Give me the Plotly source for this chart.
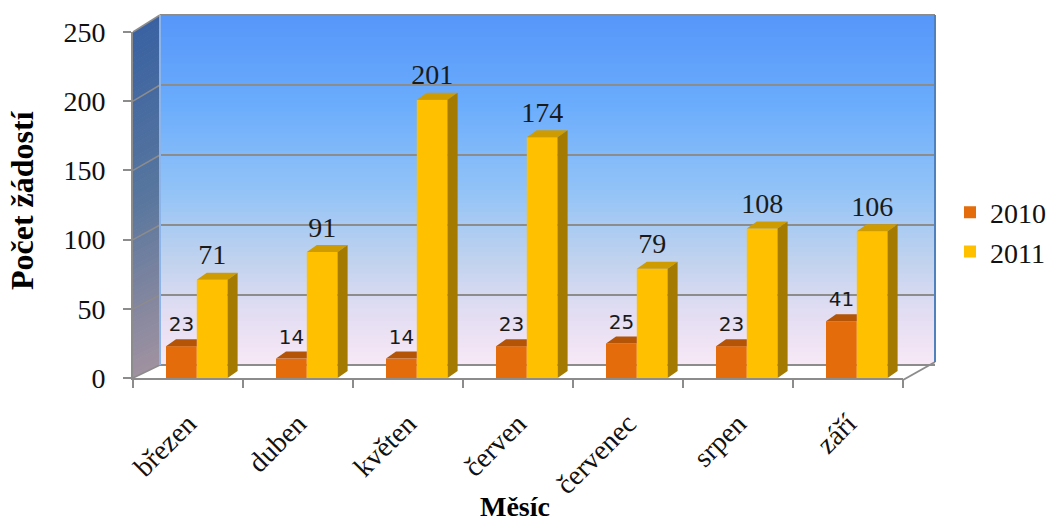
import plotly.graph_objects as go

# ---------------- data ----------------
months = ["březen", "duben", "květen", "červen", "červenec", "srpen", "září"]
v2010 = [23, 14, 14, 23, 25, 23, 41]
v2011 = [71, 91, 201, 174, 79, 108, 106]
series_names = ["2010", "2011"]
y_ticks = [0, 50, 100, 150, 200, 250]

# ---------------- style ----------------
W, H = 1054, 524
L, R, T, B = 133, 151, 32, 146          # front plot area margins (px)
PW, PH = W - L - R, H - T - B
WALL_L, WALL_R, WALL_T, WALL_B = 160, 935, 15, 365   # back wall (px)
C2010, C2011 = "#E46C0A", "#FFC000"
C2010_TOP, C2011_TOP, C2011_SIDE = "#B35406", "#CE9C00", "#A47B00"
BW = 0.28                                 # bar width (x units)
OFF = [-0.2, 0.08]                        # bar offsets
DX = 10 / 110                             # 3D depth in x units
DY = 7 / (PH / 250)                       # 3D depth in y units
SERIF = "Liberation Serif"
SANS = "DejaVu Sans"

idx = list(range(len(months)))


def px(xp):
    return (xp - L) / PW


def py(yp):
    return (T + PH - yp) / PH


def mix(stops, t):
    for (t0, c0), (t1, c1) in zip(stops, stops[1:]):
        if t0 <= t <= t1:
            f = (t - t0) / (t1 - t0) if t1 > t0 else 0
            return "rgb(%d,%d,%d)" % tuple(round(a + (b - a) * f) for a, b in zip(c0, c1))
    return "rgb(%d,%d,%d)" % stops[-1][1]


wall_stops = [(0.0, (86, 150, 250)), (0.25, (106, 172, 252)), (0.5, (146, 195, 247)),
              (0.7, (192, 210, 238)), (0.85, (226, 221, 242)), (1.0, (248, 232, 246))]
side_stops = [(0.0, (58, 98, 162)), (0.5, (88, 118, 158)), (1.0, (160, 146, 160))]

shapes = []
N = 80
for k in range(N):
    t0, t1 = k / N, (k + 1) / N
    tm = (t0 + t1) / 2
    y0 = WALL_T + (WALL_B - WALL_T) * t0
    y1 = WALL_T + (WALL_B - WALL_T) * t1 + 0.8
    shapes.append(dict(type="rect", xref="paper", yref="paper", layer="below",
                       x0=px(WALL_L), x1=px(WALL_R), y0=py(y0), y1=py(y1),
                       fillcolor=mix(wall_stops, tm), line=dict(width=0)))
    fy0 = T + PH * t0
    fy1 = T + PH * t1 + 0.8
    path = "M %f %f L %f %f L %f %f L %f %f Z" % (
        px(L), py(fy0), px(WALL_L), py(y0), px(WALL_L), py(y1), px(L), py(fy1))
    shapes.append(dict(type="path", xref="paper", yref="paper", layer="below",
                       path=path, fillcolor=mix(side_stops, tm), line=dict(width=0)))

# floor (white) with outline
floor = "M %f %f L %f %f L %f %f L %f %f Z" % (
    px(L), py(T + PH), px(WALL_L), py(WALL_B), px(WALL_R), py(WALL_B), px(L + PW), py(T + PH))
shapes.append(dict(type="path", xref="paper", yref="paper", layer="below",
                   path=floor, fillcolor="white", line=dict(width=0)))
shapes.append(dict(type="line", xref="paper", yref="paper", layer="below",
                   x0=px(L + PW), y0=py(T + PH + 2), x1=px(WALL_R), y1=py(WALL_B - 3),
                   line=dict(color="#8C8C8C", width=2)))

# grid lines on back wall and left wall
for v in y_ticks:
    wy = WALL_B - (WALL_B - WALL_T) * v / 250
    fy = T + PH - PH * v / 250
    shapes.append(dict(type="line", xref="paper", yref="paper", layer="below",
                       x0=px(WALL_L), x1=px(WALL_R), y0=py(wy), y1=py(wy),
                       line=dict(color="#8C8C8C", width=2)))
    shapes.append(dict(type="line", xref="paper", yref="paper", layer="below",
                       x0=px(L), x1=px(WALL_L), y0=py(fy), y1=py(wy),
                       line=dict(color="#8C8C8C", width=1.5)))
# wall edges
shapes.append(dict(type="line", xref="paper", yref="paper", layer="below",
                   x0=px(WALL_L), x1=px(WALL_L), y0=py(WALL_T), y1=py(WALL_B),
                   line=dict(color="#8DB4E8", width=2)))
shapes.append(dict(type="line", xref="paper", yref="paper", layer="below",
                   x0=px(WALL_R), x1=px(WALL_R), y0=py(WALL_T), y1=py(WALL_B - 3),
                   line=dict(color="#4F81BD", width=2)))

fig = go.Figure()

# front faces
for name, vals, off, col in [(series_names[0], v2010, OFF[0], C2010),
                             (series_names[1], v2011, OFF[1], C2011)]:
    fig.add_trace(go.Bar(x=idx, y=vals, name=name, offset=off, width=BW,
                         marker=dict(color=col, line=dict(width=0)),
                         hoverinfo="x+y"))


def faces(vals, off, kind):
    xs, ys = [], []
    for i, v in zip(idx, vals):
        x0, x1 = i + off, i + off + BW
        if kind == "top_clip":
            xs += [x0, x1, x1, x0 + DX, x0, None]
            ys += [v, v, v + DY, v + DY, v, None]
        elif kind == "top":
            xs += [x0, x1, x1 + DX, x0 + DX, x0, None]
            ys += [v, v, v + DY, v + DY, v, None]
        else:
            xs += [x1, x1 + DX, x1 + DX, x1, x1, None]
            ys += [0, DY, v + DY, v, 0, None]
    return xs, ys


for vals, off, kind, col in [(v2010, OFF[0], "top_clip", C2010_TOP),
                             (v2011, OFF[1], "top", C2011_TOP),
                             (v2011, OFF[1], "side", C2011_SIDE)]:
    xs, ys = faces(vals, off, kind)
    fig.add_trace(go.Scatter(x=xs, y=ys, mode="lines", fill="toself", fillcolor=col,
                             line=dict(width=0, color=col), showlegend=False,
                             hoverinfo="skip"))

# value labels
fig.add_trace(go.Scatter(x=[i + OFF[0] + BW / 2 for i in idx], y=[v + DY + 2 for v in v2010],
                         mode="text", text=[str(v) for v in v2010], textposition="top center",
                         textfont=dict(family=SANS, size=20, color="#1a1a1a"),
                         showlegend=False, hoverinfo="skip"))
fig.add_trace(go.Scatter(x=[i + OFF[1] + BW / 2 for i in idx], y=[v + DY + 1 for v in v2011],
                         mode="text", text=[str(v) for v in v2011], textposition="top center",
                         textfont=dict(family=SERIF, size=28, color="#1a1a1a"),
                         showlegend=False, hoverinfo="skip"))

fig.update_layout(
    width=W, height=H,
    margin=dict(l=L, r=R, t=T, b=B, autoexpand=False),
    paper_bgcolor="white", plot_bgcolor="rgba(0,0,0,0)",
    barmode="overlay",
    shapes=shapes,
    showlegend=True,
    legend=dict(x=px(950), xanchor="left", y=py(232), yanchor="middle",
                font=dict(family=SERIF, size=28, color="#111"),
                bgcolor="rgba(0,0,0,0)", traceorder="normal"),
    xaxis=dict(range=[-0.5, len(months) - 0.5], tickmode="array", tickvals=idx,
               ticktext=months, tickangle=-45, ticks="", showgrid=False, zeroline=False,
               showline=True, linecolor="#8C8C8C", linewidth=2,
               tickfont=dict(family=SERIF, size=28, color="#111"),
               ticklabelstandoff=16,
               minor=dict(tickmode="linear", tick0=-0.5, dtick=1, ticks="outside",
                          ticklen=8, tickwidth=2, tickcolor="#8C8C8C", showgrid=False)),
    yaxis=dict(range=[0, 250], tickmode="array", tickvals=y_ticks, showgrid=False,
               zeroline=False, showline=True, linecolor="#8C8C8C", linewidth=2,
               ticks="outside", ticklen=8, tickwidth=2, tickcolor="#8C8C8C",
               tickfont=dict(family=SERIF, size=28, color="#111"),
               ticklabelstandoff=12),
    annotations=[
        dict(text="<b>Počet žádostí</b>", xref="paper", yref="paper", x=px(22), y=py(200),
             textangle=-90, showarrow=False, font=dict(family=SERIF, size=32, color="#000"),
             xanchor="center", yanchor="middle"),
        dict(text="<b>Měsíc</b>", xref="paper", yref="paper", x=px(515), y=py(523),
             showarrow=False, font=dict(family=SERIF, size=28, color="#000"),
             xanchor="center", yanchor="bottom", borderpad=0),
    ],
)

fig.write_html("out.html")
